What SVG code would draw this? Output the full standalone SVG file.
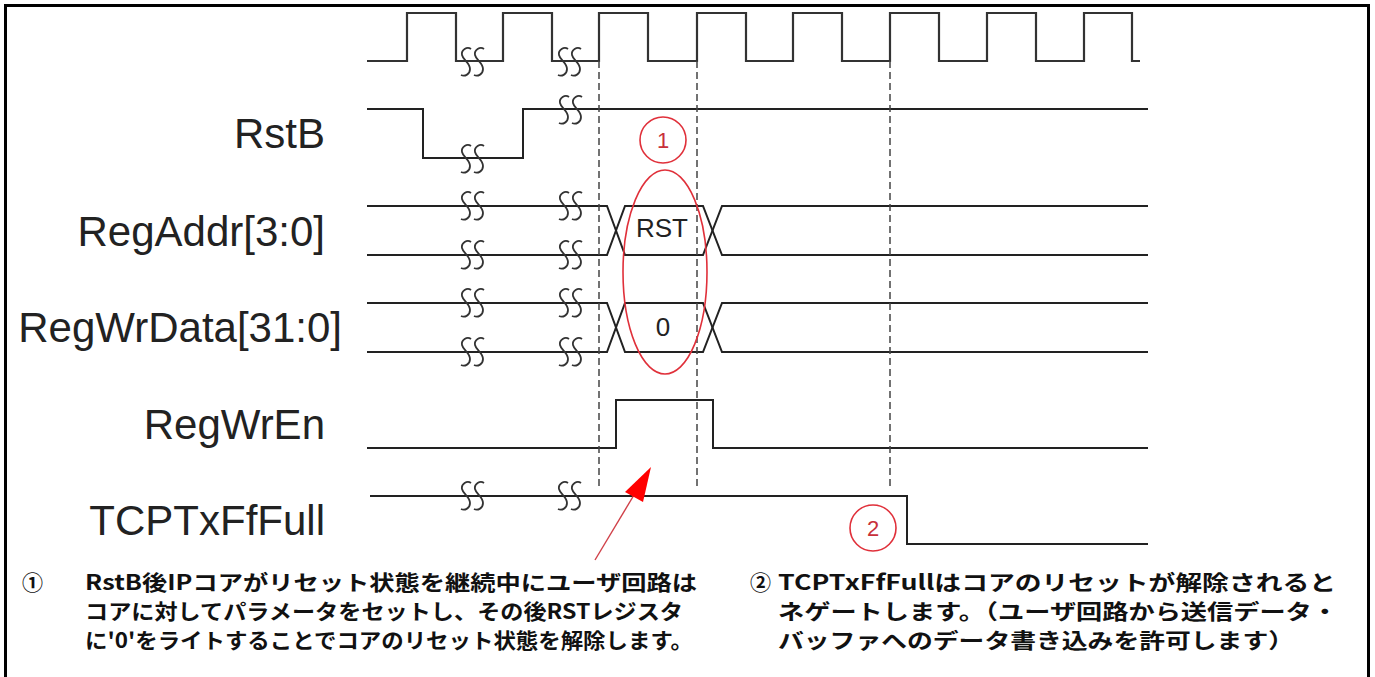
<svg xmlns="http://www.w3.org/2000/svg" xmlns:xlink="http://www.w3.org/1999/xlink" width="1375" height="677" viewBox="0 0 1375 677">
<style>
.sig{fill:none;stroke:#222;stroke-width:2}
.clk{fill:none;stroke:#333;stroke-width:2.2}
.dash{fill:none;stroke:#444;stroke-width:1.5;stroke-dasharray:7 4}
.brk{fill:none;stroke:#333;stroke-width:1.8}
.lbl{font-family:"Liberation Sans",Arial,sans-serif;font-size:42px;fill:#222;text-anchor:end}
.val{font-family:"Liberation Sans",Arial,sans-serif;font-size:26px;fill:#222;text-anchor:middle}
.red{fill:none;stroke:#e0303a;stroke-width:1.6}
.num{font-family:"Liberation Sans",Arial,sans-serif;font-size:22px;fill:#c8303a;text-anchor:middle}
.note{font-family:"Noto Sans CJK JP","Liberation Sans",sans-serif;font-size:21px;font-weight:bold;fill:#111}
</style>
<defs>
<g id="brk">
<path class="brk" d="M-2,-13 C-6,-16 -12,-12 -11,-7 C-10,-2 -3,1 -3,7 C-3,12 -8,15 -12,13"/>
<path class="brk" d="M11,-13 C7,-16 1,-12 2,-7 C3,-2 10,1 10,7 C10,12 5,15 1,13"/>
</g>
</defs>
<rect x="5.5" y="5.5" width="1363" height="720" fill="none" stroke="#000" stroke-width="3"/>

<g id="labels">
<text class="lbl" x="325" y="148">RstB</text>
<text class="lbl" x="325" y="246">RegAddr[3:0]</text>
<text class="lbl" x="342" y="342">RegWrData[31:0]</text>
<text class="lbl" x="325" y="439">RegWrEn</text>
<text class="lbl" x="325" y="535">TCPTxFfFull</text>
</g>

<g id="clock">
<path class="clk" d="M367,61 H407 V13 H456 V61 H503 V13 H552 V61 H599 V13 H648 V61 H697 V13 H746 V61 H793 V13 H842 V61 H890 V13 H939 V61 H987 V13 H1036 V61 H1084 V13 H1132 V61 H1140"/>
<use xlink:href="#brk" x="473" y="62"/>
<use xlink:href="#brk" x="570" y="62"/>
</g>

<g id="rstb">
<path class="sig" d="M367,109 H423 V158 H523 V109 H1148"/>
<use xlink:href="#brk" x="473" y="159"/>
<use xlink:href="#brk" x="571" y="110"/>
</g>

<g id="regaddr">
<path class="sig" d="M367,206 H607 L625,255 H703 L722,206 H1148"/>
<path class="sig" d="M367,255 H607 L625,206 H703 L722,255 H1148"/>
<use xlink:href="#brk" x="473" y="206"/>
<use xlink:href="#brk" x="571" y="206"/>
<use xlink:href="#brk" x="473" y="255"/>
<use xlink:href="#brk" x="571" y="255"/>
<text class="val" x="662" y="237">RST</text>
</g>

<g id="regwrdata">
<path class="sig" d="M367,303 H607 L625,352 H703 L722,303 H1148"/>
<path class="sig" d="M367,352 H607 L625,303 H703 L722,352 H1148"/>
<use xlink:href="#brk" x="473" y="303"/>
<use xlink:href="#brk" x="571" y="303"/>
<use xlink:href="#brk" x="473" y="352"/>
<use xlink:href="#brk" x="571" y="352"/>
<text class="val" x="663" y="336">0</text>
</g>

<g id="regwren">
<path class="sig" d="M367,448 H616 V400 H713 V448 H1148"/>
</g>

<g id="tcptxfffull">
<path class="sig" d="M370,496 H907 V544 H1148"/>
<use xlink:href="#brk" x="473" y="496"/>
<use xlink:href="#brk" x="570" y="496"/>
</g>

<g id="connectors">
<line class="dash" x1="599" y1="61" x2="599" y2="488"/>
<line class="dash" x1="697" y1="61" x2="697" y2="488"/>
<line class="dash" x1="890" y1="61" x2="890" y2="488"/>
<line x1="595" y1="560" x2="637" y2="490" stroke="#d04048" stroke-width="1.4"/>
<polygon points="651,467 625,492 643,502" fill="#ff0000"/>
</g>

<g id="mark1">
<ellipse class="red" cx="665" cy="272" rx="42" ry="102"/>
<circle class="red" cx="663" cy="140" r="23"/>
<text class="num" x="663" y="148">1</text>
</g>

<g id="mark2">
<circle class="red" cx="873" cy="528" r="23"/>
<text class="num" x="873" y="536">2</text>
</g>

<g id="note1">
<text class="note" x="22" y="590" font-size="23">①</text>
<text class="note" x="85" y="590" textLength="612" lengthAdjust="spacingAndGlyphs">RstB後IPコアがリセット状態を継続中にユーザ回路は</text>
<text class="note" x="85" y="619" textLength="598" lengthAdjust="spacingAndGlyphs">コアに対してパラメータをセットし、その後RSTレジスタ</text>
<text class="note" x="85" y="648" textLength="608" lengthAdjust="spacingAndGlyphs">に'0'をライトすることでコアのリセット状態を解除します。</text>
</g>

<g id="note2">
<text class="note" x="750" y="590" font-size="23">②</text>
<text class="note" x="778" y="590" textLength="558" lengthAdjust="spacingAndGlyphs">TCPTxFfFullはコアのリセットが解除されると</text>
<text class="note" x="778" y="619" textLength="560" lengthAdjust="spacingAndGlyphs">ネゲートします。（ユーザ回路から送信データ・</text>
<text class="note" x="778" y="648" textLength="516" lengthAdjust="spacingAndGlyphs">バッファへのデータ書き込みを許可します）</text>
</g>
</svg>
